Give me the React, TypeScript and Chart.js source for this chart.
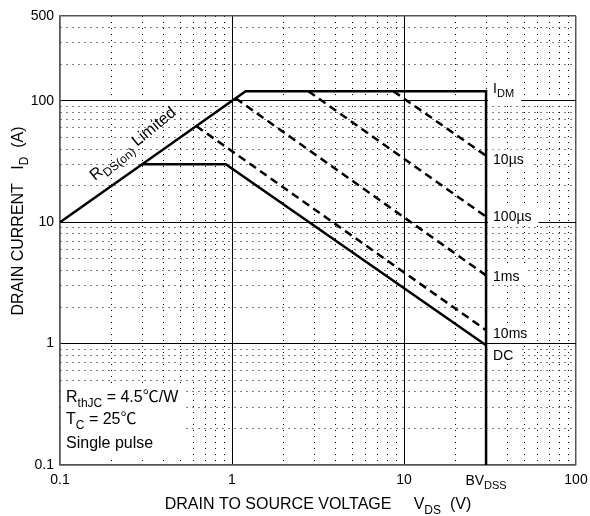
import { useEffect, useRef } from 'react';
import { Chart, registerables } from 'chart.js';

Chart.register(...registerables);

const FONT = 'Arial, "Liberation Sans", Helvetica, "Noto Sans CJK SC", sans-serif';

// Grid positions (1..9 in each decade)
const xTickValues = [
  0.1, 0.2, 0.3, 0.4, 0.5, 0.6, 0.7, 0.8, 0.9,
  1, 2, 3, 4, 5, 6, 7, 8, 9,
  10, 20, 30, 40, 50, 60, 70, 80, 90,
  100,
];
const yTickValues = [
  0.1, 0.2, 0.3, 0.4, 0.5, 0.6, 0.7, 0.8, 0.9,
  1, 2, 3, 4, 5, 6, 7, 8, 9,
  10, 20, 30, 40, 50, 60, 70, 80, 90,
  100, 200, 300, 400, 500,
];
const xLabelValues = [0.1, 1, 10, 100];
const yLabelValues = [0.1, 1, 10, 100, 500];

// Device limits
const bvdss = 30; // V
const idm = 120; // A

// RDS(on) limit + IDM + BVDSS outline
const outlineV = [0.1, 1.2, 30, 30];
const outlineI = [10, 120, 120, 0.1];

// DC operation
const dcV = [0.3, 0.92, 30];
const dcI = [30, 30, 0.97];

// Single pulse limits
const pulse10msV = [0.62, 30];
const pulse10msI = [62, 1.29];
const pulse1msV = [1.05, 30];
const pulse1msI = [105, 3.65];
const pulse100usV = [2.78, 30];
const pulse100usI = [120, 11.1];
const pulse10usV = [8.67, 30];
const pulse10usI = [120, 35.3];

const toPoints = (v: number[], i: number[]) => v.map((x, k) => ({ x, y: i[k] }));

type Seg = { t: string; sub?: boolean };

function segsWidth(ctx: CanvasRenderingContext2D, segs: Seg[], size: number, subSize: number) {
  let w = 0;
  for (const s of segs) {
    ctx.font = `${s.sub ? subSize : size}px ${FONT}`;
    w += ctx.measureText(s.t).width;
  }
  return w;
}

// Draws text with subscript parts; (x, cy) is the start (or centre) and the cap-height middle
function drawRich(
  ctx: CanvasRenderingContext2D,
  segs: Seg[],
  x: number,
  cy: number,
  size: number,
  subSize: number,
  align: 'left' | 'center' = 'left',
) {
  const w = segsWidth(ctx, segs, size, subSize);
  let px = align === 'center' ? x - w / 2 : x;
  const base = cy + size * 0.36;
  ctx.textAlign = 'left';
  ctx.textBaseline = 'alphabetic';
  for (const s of segs) {
    ctx.font = `${s.sub ? subSize : size}px ${FONT}`;
    ctx.fillText(s.t, px, s.sub ? base + size * 0.3 : base);
    px += ctx.measureText(s.t).width;
  }
  return w;
}

const isMajorX = (v?: number) => v === undefined || xLabelValues.includes(v);
const isMajorY = (v?: number) => v === undefined || yLabelValues.includes(v);

const annotationPlugin = {
  id: 'soaAnnotations',
  afterDatasetsDraw(chart: any) {
    const ctx: CanvasRenderingContext2D = chart.ctx;
    const xs = chart.scales.x;
    const ys = chart.scales.y;
    const area = chart.chartArea;
    ctx.save();
    ctx.fillStyle = '#000';

    // curve labels to the right of the BVDSS line
    const lx = xs.getPixelForValue(bvdss) + 7;
    const curveLabels: { segs: Seg[]; cy: number }[] = [
      { segs: [{ t: 'I' }, { t: 'DM', sub: true }], cy: ys.getPixelForValue(idm) - 3 },
      { segs: [{ t: '10µs' }], cy: ys.getPixelForValue(pulse10usI[1]) + 3 },
      { segs: [{ t: '100µs' }], cy: ys.getPixelForValue(pulse100usI[1]) - 1 },
      { segs: [{ t: '1ms' }], cy: ys.getPixelForValue(pulse1msI[1]) + 1 },
      { segs: [{ t: '10ms' }], cy: ys.getPixelForValue(pulse10msI[1]) + 3 },
      { segs: [{ t: 'DC' }], cy: ys.getPixelForValue(dcI[2]) + 10 },
    ];
    for (const l of curveLabels) {
      const w = segsWidth(ctx, l.segs, 14, 11);
      const hasSub = l.segs.some((s) => s.sub);
      ctx.fillStyle = '#fff';
      ctx.fillRect(lx - 5, l.cy - 9, w + 12, hasSub ? 24 : 17);
      ctx.fillStyle = '#000';
      drawRich(ctx, l.segs, lx, l.cy, 14, 11);
    }

    // test conditions box
    ctx.fillStyle = '#fff';
    ctx.fillRect(area.left + 1, 383, 123, 73);
    ctx.fillStyle = '#000';
    drawRich(ctx, [{ t: 'R' }, { t: 'thJC', sub: true }, { t: ' = 4.5℃/W' }], area.left + 6, 396, 16, 12);
    drawRich(ctx, [{ t: 'T' }, { t: 'C', sub: true }, { t: ' = 25℃' }], area.left + 6, 418.5, 16, 12);
    drawRich(ctx, [{ t: 'Single pulse' }], area.left + 6, 442, 16, 12);

    // RDS(on) limit label along the slope
    const p1 = { x: xs.getPixelForValue(outlineV[0]), y: ys.getPixelForValue(outlineI[0]) };
    const p2 = { x: xs.getPixelForValue(outlineV[1]), y: ys.getPixelForValue(outlineI[1]) };
    const ang = Math.atan2(p2.y - p1.y, p2.x - p1.x) - 0.07;
    const av = 0.32;
    const ax = xs.getPixelForValue(av);
    const ay = ys.getPixelForValue(av * (outlineI[0] / outlineV[0]));
    ctx.translate(ax, ay);
    ctx.rotate(ang);
    drawRich(ctx, [{ t: 'R' }, { t: 'DS(on)', sub: true }, { t: ' Limited' }], 0, -23, 16, 12, 'center');
    ctx.restore();

    // axis titles and the BVDSS tick label
    ctx.save();
    ctx.fillStyle = '#000';
    drawRich(ctx, [{ t: 'BV' }, { t: 'DSS', sub: true }], xs.getPixelForValue(bvdss), 480, 14, 11, 'center');
    drawRich(
      ctx,
      [{ t: 'DRAIN TO SOURCE VOLTAGE     V' }, { t: 'DS', sub: true }, { t: '  (V)' }],
      (area.left + area.right) / 2,
      503.5,
      16,
      12,
      'center',
    );
    ctx.translate(17, 221);
    ctx.rotate(-Math.PI / 2);
    drawRich(ctx, [{ t: 'DRAIN CURRENT   I' }, { t: 'D', sub: true }, { t: '  (A)' }], 0, 0, 16, 12, 'center');
    ctx.restore();
  },
};

export default function App() {
  const ref = useRef<HTMLCanvasElement | null>(null);

  useEffect(() => {
    document.body.style.margin = '0';
    const canvas = ref.current;
    if (!canvas) return;

    const solid = { borderColor: '#000', borderWidth: 2.5, showLine: true, pointRadius: 0, fill: false };
    const dashed = { ...solid, borderDash: [8, 5] };

    const chart = new Chart(canvas, {
      type: 'scatter',
      data: {
        datasets: [
          { ...solid, data: toPoints(outlineV, outlineI) },
          { ...solid, data: toPoints(dcV, dcI) },
          { ...dashed, data: toPoints(pulse10msV, pulse10msI) },
          { ...dashed, data: toPoints(pulse1msV, pulse1msI) },
          { ...dashed, data: toPoints(pulse100usV, pulse100usI) },
          { ...dashed, data: toPoints(pulse10usV, pulse10usI) },
        ],
      },
      options: {
        animation: false,
        responsive: false,
        devicePixelRatio: 1,
        layout: { padding: { left: 8, right: 14, top: 16, bottom: 21 } },
        plugins: { legend: { display: false }, tooltip: { enabled: false }, title: { display: false } },
        elements: { line: { tension: 0 } },
        scales: {
          x: {
            type: 'logarithmic',
            min: 0.1,
            max: 100,
            afterBuildTicks: (s: any) => {
              s.ticks = xTickValues.map((value) => ({ value }));
            },
            afterFit: (s: any) => {
              s.height = 30;
            },
            ticks: {
              autoSkip: false,
              maxRotation: 0,
              minRotation: 0,
              padding: 2,
              color: '#000',
              font: { family: FONT, size: 14, lineHeight: 1.9 },
              callback: (v: any) => (xLabelValues.includes(Number(v)) ? String(v) : ''),
            },
            grid: {
              drawTicks: false,
              color: (c: any) => (c.tick && (c.tick.value === 0.1 || c.tick.value === 100) ? '#555' : '#000'),
              lineWidth: (c: any) => (c.tick && (c.tick.value === 0.1 || c.tick.value === 100) ? 1.5 : 1),
            },
            border: {
              display: true,
              color: '#555',
              width: 1.5,
              dash: (c: any) => (isMajorX(c.tick?.value) ? [] : [1, 5]),
            },
          },
          y: {
            type: 'logarithmic',
            min: 0.1,
            max: 500,
            afterBuildTicks: (s: any) => {
              s.ticks = yTickValues.map((value) => ({ value }));
            },
            afterFit: (s: any) => {
              s.width = 52;
            },
            ticks: {
              autoSkip: false,
              padding: 6,
              color: '#000',
              font: { family: FONT, size: 14 },
              callback: (v: any) => (yLabelValues.includes(Number(v)) ? String(v) : ''),
            },
            grid: {
              drawTicks: false,
              color: (c: any) => (c.tick && (c.tick.value === 0.1 || c.tick.value === 500) ? '#555' : '#000'),
              lineWidth: (c: any) => (c.tick && (c.tick.value === 0.1 || c.tick.value === 500) ? 1.5 : 1),
            },
            border: {
              display: true,
              color: '#555',
              width: 1.5,
              dash: (c: any) => (isMajorY(c.tick?.value) ? [] : [1, 5]),
            },
          },
        },
      } as any,
      plugins: [annotationPlugin],
    });

    return () => chart.destroy();
  }, []);

  return (
    <div style={{ width: 590, height: 516, background: '#fff' }}>
      <canvas ref={ref} width={590} height={516} style={{ display: 'block' }} />
    </div>
  );
}
